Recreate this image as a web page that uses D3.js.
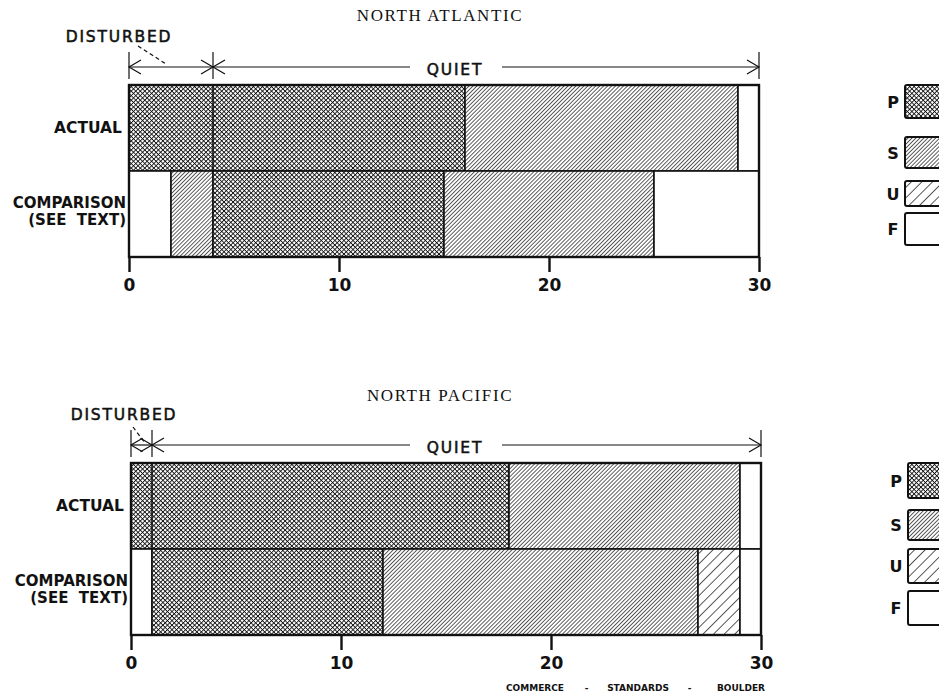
<!DOCTYPE html>
<html>
<head>
<meta charset="utf-8">
<script src="https://cdn.jsdelivr.net/npm/d3@7"></script>
<style>
  html, body { margin: 0; padding: 0; background: #fff; }
  svg { display: block; }
  .lab { font-family: "DejaVu Sans", sans-serif; font-weight: bold; fill: #111; }
  .mid { font-family: "DejaVu Sans", sans-serif; font-weight: normal; fill: #111; stroke: #111; stroke-width: 0.55px; }
  .title { font-family: "Liberation Serif", "DejaVu Serif", serif; fill: #111; letter-spacing: 1.6px; }
</style>
</head>
<body>
<svg id="chart" width="939" height="698"></svg>
<script>
// Days per condition class over a 30-day month, two ocean regions
const totalDays = 30;
const xTicks = [0, 10, 20, 30];
const regionTitles = ["NORTH ATLANTIC", "NORTH PACIFIC"];
const rowLabels = ["ACTUAL", "COMPARISON"];
const legendKeys = ["P", "S", "U", "F"];
const disturbedDays = [4, 1];

const atlanticActualKeys = ["P", "S", "F"];
const atlanticActualDays = [16, 13, 1];
const atlanticComparisonKeys = ["F", "S", "P", "S", "F"];
const atlanticComparisonDays = [2, 2, 11, 10, 5];

const pacificActualKeys = ["P", "S", "F"];
const pacificActualDays = [18, 11, 1];
const pacificComparisonKeys = ["F", "P", "S", "U", "F"];
const pacificComparisonDays = [1, 11, 15, 2, 1];

const footerWords = ["COMMERCE", "-", "STANDARDS", "-", "BOULDER"];

// build stacked segments from key/day arrays
function segments(keys, days) {
  let acc = 0;
  return keys.map((k, i) => {
    const s = { key: k, x0: acc, x1: acc + days[i] };
    acc += days[i];
    return s;
  });
}

const panels = [
  { title: regionTitles[0], disturbed: disturbedDays[0],
    rows: [segments(atlanticActualKeys, atlanticActualDays), segments(atlanticComparisonKeys, atlanticComparisonDays)],
    xr: [129, 759], top: 85, bottom: 257, dy: 0,
    legendX: 905, legendOffsets: [0, 52, 96, 128], legendHeights: [33, 31, 25, 32] },
  { title: regionTitles[1], disturbed: disturbedDays[1],
    rows: [segments(pacificActualKeys, pacificActualDays), segments(pacificComparisonKeys, pacificComparisonDays)],
    xr: [131, 761], top: 463, bottom: 635, dy: 378,
    legendX: 908, legendOffsets: [0, 47, 86, 128], legendHeights: [35, 30, 34, 34] }
];

const svg = d3.select("#chart");
const defs = svg.append("defs");

// hatch fills
function linePattern(id, spacing, width, cross) {
  const p = defs.append("pattern").attr("id", id)
    .attr("patternUnits", "userSpaceOnUse")
    .attr("width", spacing).attr("height", spacing)
    .attr("patternTransform", "rotate(45)");
  p.append("rect").attr("width", spacing).attr("height", spacing).attr("fill", "#fff");
  p.append("line").attr("x1", 0).attr("y1", 0).attr("x2", 0).attr("y2", spacing)
    .attr("stroke", "#111").attr("stroke-width", width);
  if (cross) {
    p.append("line").attr("x1", 0).attr("y1", 0).attr("x2", spacing).attr("y2", 0)
      .attr("stroke", "#111").attr("stroke-width", width);
  }
}
linePattern("patP", 3.2, 1.75, true);
linePattern("patS", 2.8, 1.35, false);
linePattern("patU", 7.5, 1.4, false);
const fillFor = { P: "url(#patP)", S: "url(#patS)", U: "url(#patU)", F: "#fff" };

panels.forEach(pn => {
  const g = svg.append("g");
  const x = d3.scaleLinear().domain([0, totalDays]).range(pn.xr);
  const y = d3.scaleBand().domain(rowLabels).range([pn.top, pn.bottom]).padding(0);

  // title
  g.append("text").attr("class", "title")
    .attr("x", 440).attr("y", 21 + pn.dy + (pn.dy ? 2 : 0))
    .attr("text-anchor", "middle").attr("font-size", 17).text(pn.title);

  // bars
  pn.rows.forEach((segs, ri) => {
    g.selectAll(null).data(segs).enter().append("rect")
      .attr("x", d => x(d.x0)).attr("width", d => x(d.x1) - x(d.x0))
      .attr("y", y(rowLabels[ri])).attr("height", y.bandwidth())
      .attr("fill", d => fillFor[d.key])
      .attr("stroke", "#111").attr("stroke-width", 1.6);
  });
  // disturbed boundary through the actual row
  g.append("line")
    .attr("x1", x(pn.disturbed)).attr("x2", x(pn.disturbed))
    .attr("y1", y(rowLabels[0])).attr("y2", y(rowLabels[0]) + y.bandwidth())
    .attr("stroke", "#111").attr("stroke-width", 1.6);
  // outer frame
  g.append("rect").attr("x", x(0)).attr("y", pn.top)
    .attr("width", x(totalDays) - x(0)).attr("height", pn.bottom - pn.top)
    .attr("fill", "none").attr("stroke", "#111").attr("stroke-width", 2.4);

  // row labels
  g.append("text").attr("class", "lab").attr("font-size", 15.5)
    .attr("x", x(0) - 7).attr("y", y(rowLabels[0]) + y.bandwidth() / 2 + 5)
    .attr("text-anchor", "end").text(rowLabels[0]);
  g.append("text").attr("class", "lab").attr("font-size", 15)
    .attr("x", x(0) - 3).attr("y", y(rowLabels[1]) + y.bandwidth() / 2 - 6)
    .attr("text-anchor", "end").text(rowLabels[1]);
  g.append("text").attr("class", "lab").attr("font-size", 15)
    .attr("x", x(0) - 3).attr("y", y(rowLabels[1]) + y.bandwidth() / 2 + 11)
    .attr("text-anchor", "end").attr("xml:space", "preserve").text("(SEE  TEXT)");

  // axis
  const axis = d3.axisBottom(x).tickValues(xTicks).tickSize(15).tickPadding(7).tickFormat(d3.format("d"));
  const ag = g.append("g").attr("transform", `translate(0,${pn.bottom})`).call(axis);
  ag.select(".domain").remove();
  ag.selectAll(".tick line").attr("stroke", "#111").attr("stroke-width", 2.4);
  ag.selectAll(".tick text").attr("class", "lab").attr("font-size", 17).attr("fill", "#111");

  // disturbed / quiet span arrows
  const ay = 67 + pn.dy;
  const lineAttrs = sel => sel.attr("stroke", "#111").attr("stroke-width", 1.2).attr("fill", "none");
  const xa = x(0), xb = x(pn.disturbed), xc = x(totalDays);
  const h = 7, w = 12;
  [xa, xb, xc].forEach(xx => {
    g.append("line").attr("x1", xx).attr("x2", xx).attr("y1", ay - 15).attr("y2", ay + 12).call(lineAttrs);
  });
  g.append("line").attr("x1", xa).attr("x2", xb).attr("y1", ay).attr("y2", ay).call(lineAttrs);
  // arrowheads
  const heads = [[xa, 1], [xb, -1], [xb, 1], [xc, -1]];
  heads.forEach(([xx, dir]) => {
    const ww = Math.min(w, (xb - xa) / 2 + 1);
    const len = (xx === xa || (xx === xb && dir === -1)) ? ww : w;
    g.append("path").attr("d", `M${xx + dir * len},${ay - h * len / w}L${xx},${ay}L${xx + dir * len},${ay + h * len / w}`).call(lineAttrs);
  });
  const qx = 455;
  g.append("line").attr("x1", xb).attr("x2", qx - 45).attr("y1", ay).attr("y2", ay).call(lineAttrs);
  g.append("line").attr("x1", qx + 47).attr("x2", xc).attr("y1", ay).attr("y2", ay).call(lineAttrs);
  g.append("text").attr("class", "mid").attr("font-size", 15.5)
    .style("letter-spacing", "1.8px")
    .attr("x", qx).attr("y", ay + 8).attr("text-anchor", "middle").text("QUIET");

  // disturbed label with dashed leader
  const dx = pn.dy ? 124 : 119;
  g.append("text").attr("class", "mid").attr("font-size", 15.5)
    .style("letter-spacing", "1.8px")
    .attr("x", dx).attr("y", ay - 25).attr("text-anchor", "middle").text("DISTURBED");
  const lead = pn.dy ? [[133, ay - 18], [145, ay - 2]] : [[138, ay - 21], [166, ay - 3]];
  g.append("line").attr("x1", lead[0][0]).attr("y1", lead[0][1]).attr("x2", lead[1][0]).attr("y2", lead[1][1])
    .call(lineAttrs).attr("stroke-dasharray", "4,3");

  // legend
  legendKeys.forEach((k, i) => {
    const ly = pn.top + pn.legendOffsets[i];
    const lh = pn.legendHeights[i];
    g.append("rect").attr("x", pn.legendX).attr("y", ly).attr("width", 45).attr("height", lh)
      .attr("rx", 2).attr("fill", fillFor[k]).attr("stroke", "#111").attr("stroke-width", 2);
    g.append("text").attr("class", "lab").attr("font-size", 16)
      .attr("x", pn.legendX - 12).attr("y", ly + lh / 2 + 6).attr("text-anchor", "middle").text(k);
  });
});

// footer credit line
const fx = d3.scalePoint().domain(d3.range(footerWords.length)).range([535, 741]);
svg.append("g").selectAll("text").data(footerWords).enter().append("text")
  .attr("class", "lab").attr("font-size", 9)
  .attr("x", (d, i) => fx(i)).attr("y", 691).attr("text-anchor", "middle").text(d => d);
</script>
</body>
</html>
